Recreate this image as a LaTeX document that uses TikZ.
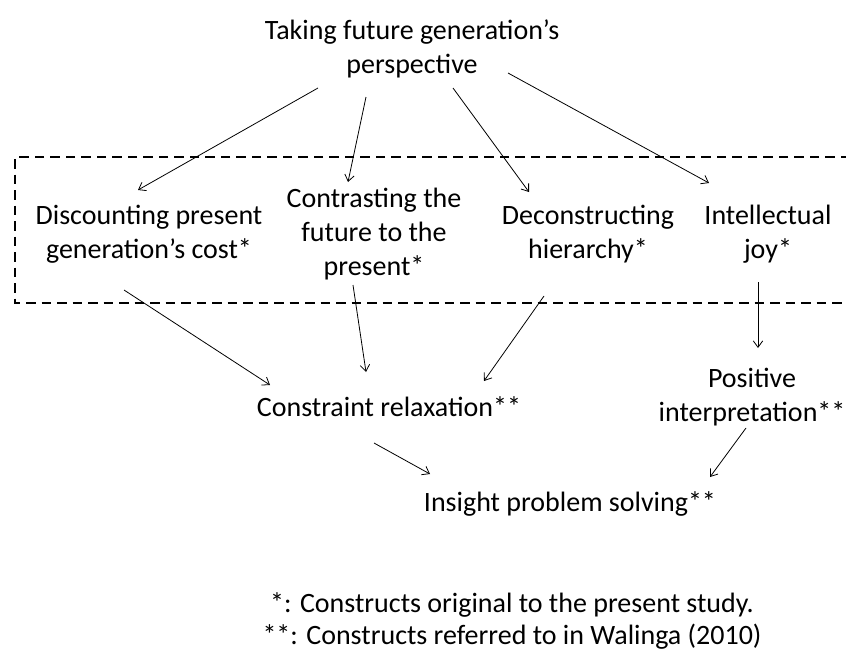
\documentclass[tikz,border=0pt]{standalone}
\usepackage{fontspec}
\setmainfont{Carlito}
\usetikzlibrary{arrows.meta,calc}
\begin{document}
\begin{tikzpicture}[x=1pt,y=-1pt,
  lbl/.style={align=center, inner sep=0pt, font=\fontsize{28}{34}\selectfont},
  arr/.style={line width=0.8pt, -{Straight Barb[length=6.5pt,width=9.5pt]}},
  boxline/.style={line width=2.2pt, dash pattern=on 9.5pt off 6pt}]
\useasboundingbox (0,0) rectangle (846,653);
\fill[white] (0,0) rectangle (846,653);

% dashed frame (open on the right)
\draw[boxline] (850,157) -- (15,157) -- (15,303) -- (850,303);

\node[lbl] (title) at (412,50) {\strut Taking future generation’s\\perspective\strut};
\node[lbl] (disc) at (149,235) {\strut Discounting present\\generation’s cost*\strut};
\node[lbl] (contr) at (374,235) {\strut Contrasting the\\future to the\\present*\strut};
\node[lbl] (decon) at (588,235) {\strut Deconstructing\\hierarchy*\strut};
\node[lbl] (intel) at (768,235) {\strut Intellectual\\joy*\strut};
\node[lbl] (constr) at (389,410) {\strut Constraint relaxation**};
\node[lbl] (posit) at (752,398) {\strut Positive\\interpretation**\strut};
\node[lbl] (insight) at (570,505) {\strut Insight problem solving**};
\node[lbl, font=\fontsize{28}{32}\selectfont] (notes) at (512,621.6)
  {\strut *: Constructs original to the present study.\\{}**: Constructs referred to in Walinga (2010)\strut};

\draw[arr] ($(title)+(-94,38)$) -- ($(disc)+(-11,-45)$);
\draw[arr] ($(title)+(-46,47)$) -- ($(contr)+(-26,-53)$);
\draw[arr] ($(title)+(41,38)$) -- ($(decon)+(-59,-43)$);
\draw[arr] ($(title)+(96,23)$) -- ($(intel)+(-59,-52)$);
\draw[arr] ($(disc)+(-25,55)$) -- ($(constr)+(-119,-25)$);
\draw[arr] ($(contr)+(-21,50)$) -- ($(constr)+(-23,-38)$);
\draw[arr] ($(decon)+(-44,61)$) -- ($(constr)+(95,-29)$);
\draw[arr] ($(intel)+(-10,47)$) -- ($(posit)+(6,-50)$);
\draw[arr] ($(constr)+(-15,33)$) -- ($(insight)+(-140,-31)$);
\draw[arr] ($(posit)+(-6,30)$) -- ($(insight)+(140,-28)$);
\end{tikzpicture}
\end{document}
